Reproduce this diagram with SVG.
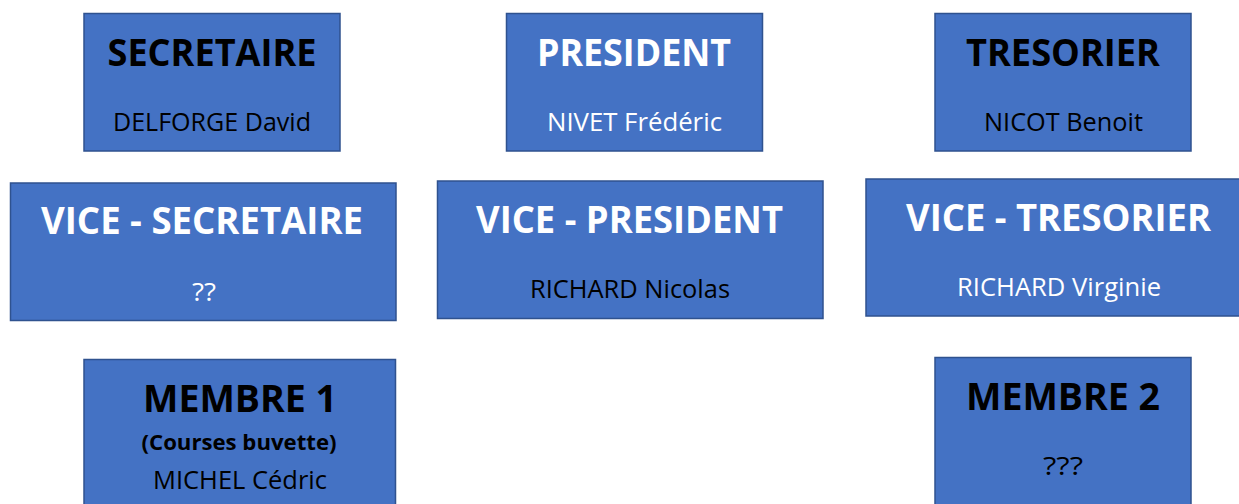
<svg xmlns="http://www.w3.org/2000/svg" width="1239" height="504" viewBox="0 0 1239 504">
<style>
.box{fill:#4472C4;stroke:#2F528F;stroke-width:1.5}
.t{font-family:"Open Sans","Liberation Sans",sans-serif;font-weight:bold;font-size:37px;text-anchor:middle}
.s{font-family:"Open Sans","Liberation Sans",sans-serif;font-size:25px;text-anchor:middle}
.sb{font-family:"Open Sans","Liberation Sans",sans-serif;font-weight:bold;font-size:21px;text-anchor:middle}
.k{fill:#000}
.w{fill:#fff}
</style>
<rect width="1239" height="504" fill="#fff"/>
<g id="connectors"></g>
<g id="secretaire">
<rect class="box" x="84" y="13.5" width="256" height="137.5"/>
<text class="t k" x="212" y="66" textLength="209" lengthAdjust="spacingAndGlyphs">SECRETAIRE</text>
<text class="s k" x="212" y="131" textLength="198" lengthAdjust="spacingAndGlyphs">DELFORGE David</text>
</g>
<g id="president">
<rect class="box" x="506.5" y="13.5" width="256" height="137.5"/>
<text class="t w" x="634" y="66" textLength="194" lengthAdjust="spacingAndGlyphs">PRESIDENT</text>
<text class="s w" x="634.5" y="131" textLength="175" lengthAdjust="spacingAndGlyphs">NIVET Frédéric</text>
</g>
<g id="tresorier">
<rect class="box" x="935" y="13.5" width="256" height="137.5"/>
<text class="t k" x="1063" y="66" textLength="194" lengthAdjust="spacingAndGlyphs">TRESORIER</text>
<text class="s k" x="1063.5" y="131" textLength="159" lengthAdjust="spacingAndGlyphs">NICOT Benoit</text>
</g>
<g id="vice-secretaire">
<rect class="box" x="10.5" y="183" width="385.5" height="137.5"/>
<text class="t w" x="202" y="234" textLength="322" lengthAdjust="spacingAndGlyphs">VICE - SECRETAIRE</text>
<text class="s w" x="204" y="301" textLength="24" lengthAdjust="spacingAndGlyphs">??</text>
</g>
<g id="vice-president">
<rect class="box" x="437.5" y="181" width="385.5" height="137.5"/>
<text class="t w" x="629.5" y="233" textLength="307" lengthAdjust="spacingAndGlyphs">VICE - PRESIDENT</text>
<text class="s k" x="630" y="298" textLength="200" lengthAdjust="spacingAndGlyphs">RICHARD Nicolas</text>
</g>
<g id="vice-tresorier">
<rect class="box" x="866" y="179" width="386" height="137"/>
<text class="t w" x="1058.5" y="231" textLength="305" lengthAdjust="spacingAndGlyphs">VICE - TRESORIER</text>
<text class="s w" x="1059" y="296" textLength="204" lengthAdjust="spacingAndGlyphs">RICHARD Virginie</text>
</g>
<g id="membre-1">
<rect class="box" x="84" y="359.5" width="311.5" height="160"/>
<text class="t k" x="240" y="412" textLength="194" lengthAdjust="spacingAndGlyphs">MEMBRE 1</text>
<text class="sb k" x="239" y="450" textLength="195" lengthAdjust="spacingAndGlyphs">(Courses buvette)</text>
<text class="s k" x="240" y="489" textLength="174" lengthAdjust="spacingAndGlyphs">MICHEL Cédric</text>
</g>
<g id="membre-2">
<rect class="box" x="935" y="357.5" width="256" height="160"/>
<text class="t k" x="1063" y="410" textLength="194" lengthAdjust="spacingAndGlyphs">MEMBRE 2</text>
<text class="s k" x="1063" y="475" textLength="40" lengthAdjust="spacingAndGlyphs">???</text>
</g>
</svg>
